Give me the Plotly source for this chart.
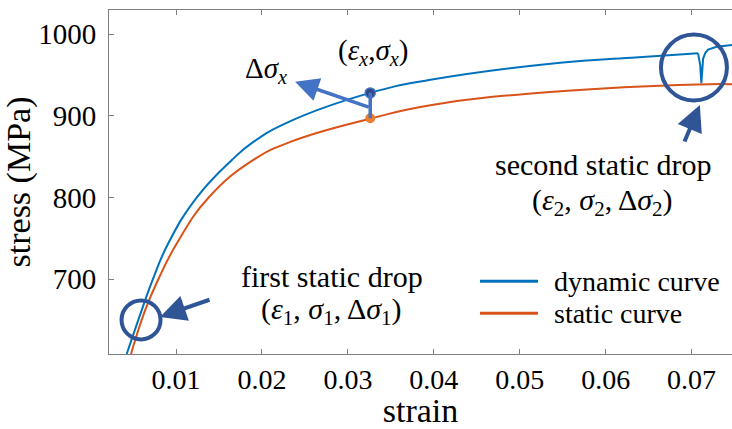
import plotly.graph_objects as go

# ---- data -------------------------------------------------------------
# dynamic (blue) stress-strain curve, smooth part before the second drop
dyn_strain = [0.00426, 0.0060, 0.0073, 0.0091, 0.0124, 0.0165, 0.0190, 0.0230,
              0.0326, 0.0396, 0.0547, 0.0630, 0.07075]
dyn_stress = [608.6, 662, 700, 744, 800, 846, 868, 892,
              928, 944, 965, 971, 976.4]

# dynamic curve around the second static drop
drop_strain = [0.07075, 0.07100, 0.07113, 0.07125, 0.07134, 0.07160, 0.07192, 0.0729, 0.0747]
drop_stress = [976.4, 962, 940, 958, 970, 977, 981, 984.5, 986.5]

# static (orange) stress-strain curve
sta_strain = [0.00476, 0.0064, 0.00794, 0.0101, 0.0138, 0.0190, 0.0233,
              0.0328, 0.0396, 0.0547, 0.0707, 0.0747]
sta_stress = [608.6, 662, 700, 744, 800, 846, 868,
              897, 913, 930, 938.4, 938.7]

# marked point x on both curves
pt_strain = 0.0326
pt_dyn_stress = 928
pt_sta_stress = 897

x_ticks = [0.01, 0.02, 0.03, 0.04, 0.05, 0.06, 0.07]
x_tick_text = ["0.01", "0.02", "0.03", "0.04", "0.05", "0.06", "0.07"]
y_ticks = [700, 800, 900, 1000]
y_tick_text = ["700", "800", "900", "1000"]

# ---- styling ----------------------------------------------------------
BLUE = "#0072BD"
ORANGE = "#D95319"
MARK_BLUE = "#4472C4"
DARK_BLUE = "#2F5597"
AXIS_GRAY = "#7F7F7F"
FONT = "Liberation Serif"
FS = 28
TICK_FS = 29

fig = go.Figure()

fig.add_trace(go.Scatter(x=dyn_strain, y=dyn_stress, mode="lines",
                         line=dict(color=BLUE, width=2, shape="spline", smoothing=1.3),
                         name="dynamic curve", showlegend=False))
fig.add_trace(go.Scatter(x=drop_strain, y=drop_stress, mode="lines",
                         line=dict(color=BLUE, width=2),
                         showlegend=False))
fig.add_trace(go.Scatter(x=sta_strain, y=sta_stress, mode="lines",
                         line=dict(color=ORANGE, width=2, shape="spline", smoothing=1.3),
                         name="static curve", showlegend=False))

# connector between the two marked points
fig.add_shape(type="line", xref="x", yref="y",
              x0=pt_strain, x1=pt_strain, y0=pt_sta_stress, y1=pt_dyn_stress,
              line=dict(color=MARK_BLUE, width=3.5))

fig.add_trace(go.Scatter(x=[pt_strain], y=[pt_dyn_stress], mode="markers",
                         marker=dict(color="#2E4A8B", size=10,
                                     line=dict(color=MARK_BLUE, width=1.5)),
                         showlegend=False))
fig.add_trace(go.Scatter(x=[pt_strain], y=[pt_sta_stress], mode="markers",
                         marker=dict(color="#ED7D31", size=10, line=dict(width=0)),
                         showlegend=False))

# circles highlighting the two static drops (pixel-sized, anchored in data space)
def ring(cx, cy, r):
    fig.add_shape(type="circle", xref="x", yref="y",
                  xsizemode="pixel", ysizemode="pixel",
                  xanchor=cx, yanchor=cy, x0=-r, x1=r, y0=-r, y1=r,
                  line=dict(color=DARK_BLUE, width=4))

ring(0.07027, 959, 33)
ring(0.00593, 650.3, 19.5)

# arrows
def arrow(x_tip, y_tip, x_tail, y_tail, color, width, size):
    fig.add_annotation(x=x_tip, y=y_tip, ax=x_tail, ay=y_tail,
                       xref="x", yref="y", axref="x", ayref="y",
                       text="", showarrow=True, arrowhead=2,
                       arrowsize=size, arrowwidth=width, arrowcolor=color)

arrow(0.02385, 941.6, pt_strain, 910, MARK_BLUE, 3.5, 1.35)
arrow(0.00814, 654.0, 0.01407, 675.6, DARK_BLUE, 4, 1.3)
arrow(0.07096, 913.1, 0.0691, 866.6, DARK_BLUE, 4, 1.3)

# text labels
def label(x, y, txt, size=FS):
    fig.add_annotation(x=x, y=y, xref="x", yref="y", text=txt, showarrow=False,
                       font=dict(family=FONT, size=size, color="black"),
                       xanchor="center", yanchor="middle")

label(0.02047, 955.9, "Δ<i>σ</i><sub><i>x</i></sub>", 29)
label(0.03292, 978, "(<i>ε</i><sub><i>x</i></sub>,<i>σ</i><sub><i>x</i></sub>)", 29)
label(0.0598, 840.9, "second static drop", 30)
label(0.05968, 794.4, "(<i>ε</i><sub>2</sub>, <i>σ</i><sub>2</sub>, Δ<i>σ</i><sub>2</sub>)", 30)
label(0.02815, 703.8, "first static drop", 30)
label(0.02815, 661, "(<i>ε</i><sub>1</sub>, <i>σ</i><sub>1</sub>, Δ<i>σ</i><sub>1</sub>)", 30)

# legend drawn as line samples plus text
legend_items = [("dynamic curve", BLUE, 697.7), ("static curve", ORANGE, 658.5)]
for name, col, yy in legend_items:
    fig.add_shape(type="line", xref="x", yref="y", x0=0.04537, x1=0.05212,
                  y0=yy, y1=yy, line=dict(color=col, width=3))
    fig.add_annotation(x=0.05375, y=yy, xref="x", yref="y", text=name,
                       showarrow=False, xanchor="left", yanchor="middle",
                       font=dict(family=FONT, size=FS, color="black"))

fig.update_layout(
    width=732, height=429,
    margin=dict(l=109, r=0, t=10, b=75),
    paper_bgcolor="white", plot_bgcolor="white",
    font=dict(family=FONT, size=FS, color="black"),
    showlegend=False,
)
fig.update_xaxes(range=[0.0022, 0.0747], tickvals=x_ticks, ticktext=x_tick_text,
                 ticks="inside", ticklen=5, tickcolor=AXIS_GRAY, tickwidth=1,
                 showline=True, linecolor=AXIS_GRAY, linewidth=1, mirror="ticks",
                 showgrid=False, zeroline=False, automargin=False,
                 title=dict(text="strain", standoff=14),
                 tickfont=dict(family=FONT, size=FS, color="black"))
fig.update_yaxes(range=[608.6, 1029.4], tickvals=y_ticks, ticktext=y_tick_text,
                 ticks="inside", ticklen=5, tickcolor=AXIS_GRAY, tickwidth=1,
                 showline=True, linecolor=AXIS_GRAY, linewidth=1, mirror=False,
                 showgrid=False, zeroline=False, automargin=False,
                 ticklabelstandoff=6,
                 title=dict(text="stress (MPa)", standoff=8),
                 tickfont=dict(family=FONT, size=TICK_FS, color="black"))

fig.write_html("out.html")
